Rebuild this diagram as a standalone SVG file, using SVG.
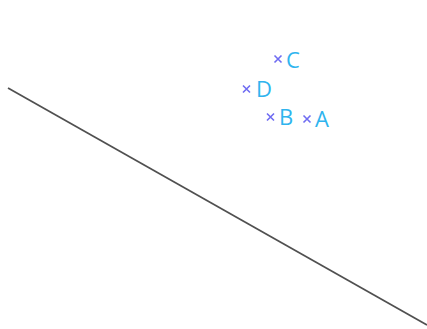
<svg xmlns="http://www.w3.org/2000/svg" width="427" height="329" viewBox="0 0 427 329">
<style>
.x{stroke:#6f6cf2;stroke-width:1.6;fill:none}
.t{font-family:"Open Sans","Liberation Sans",sans-serif;font-size:22px;fill:#2fb4ee}
</style>
<rect width="427" height="329" fill="#fff"/>
<g id="connectors">
<line x1="8" y1="88" x2="427" y2="325" stroke="#505050" stroke-width="1.7"/>
</g>
<g id="C"><path class="x" d="M274.5,55.5l7,7m0,-7l-7,7"/><text class="t" x="286" y="68">C</text></g>
<g id="D"><path class="x" d="M243,85.5l7,7m0,-7l-7,7"/><text class="t" x="256" y="97">D</text></g>
<g id="B"><path class="x" d="M267,113.5l7,7m0,-7l-7,7"/><text class="t" x="279" y="125">B</text></g>
<g id="A"><path class="x" d="M303.5,115.5l7,7m0,-7l-7,7"/><text class="t" x="315" y="127">A</text></g>
</svg>
